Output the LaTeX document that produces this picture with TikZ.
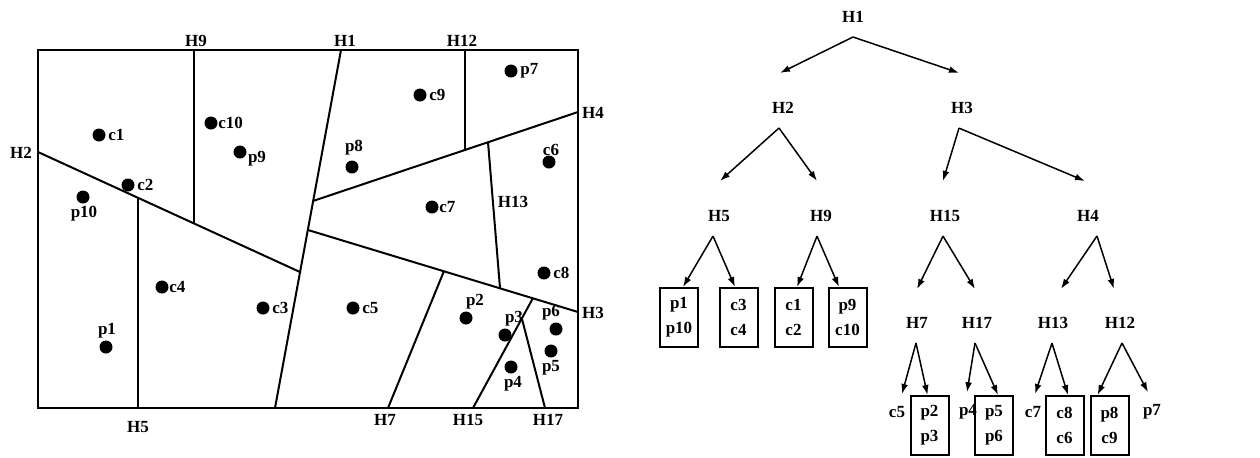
\documentclass[tikz,border=0pt]{standalone}
\usepackage{fontspec}
\setmainfont{Liberation Serif}
\usetikzlibrary{arrows.meta, positioning, calc}

\begin{document}
\begin{tikzpicture}[x=0.5pt, y=-0.5pt,
  lbl/.style={font=\fontsize{8.5}{9}\selectfont\bfseries, inner sep=1pt},
  dot/.style={circle, fill, inner sep=0pt, minimum size=6.5pt},
  wall/.style={line width=1pt},
  leaf/.style={draw, line width=1pt, minimum width=19pt, minimum height=29.5pt,
    inner sep=0pt, align=center, font=\fontsize{8.5}{12.5}\selectfont\bfseries},
  arr/.style={-{Latex[length=5pt, width=3.4pt]}, line width=0.75pt}]
  \useasboundingbox (0,0) rectangle (1260,457);

  % the partitioned plane
  \draw[line width=1.3pt] (38,50) rectangle (578,408);
  \draw[wall] (341,50) -- (275,408);   % H1
  \draw[wall] (38,152) -- (300,272);   % H2
  \draw[wall] (313,201) -- (578,112);  % H4
  \draw[wall] (308,230) -- (578,312);  % H3
  \draw[wall] (194,50) -- (194,224);   % H9
  \draw[wall] (138,198) -- (138,408);  % H5
  \draw[wall] (465,50) -- (465,150);   % H12
  \draw[wall] (488,142) -- (500,288);  % H13
  \draw[wall] (444,271) -- (388,408);  % H7
  \draw[wall] (473,408) -- (533,298);  % H15
  \draw[wall] (522,319) -- (545,408);  % H17

  \node[lbl] (lH9) at (196,41) {H9};
  \node[lbl] (lH1) at (345,41) {H1};
  \node[lbl] (lH12) at (462,41) {H12};
  \node[lbl] (lH4) at (593,113) {H4};
  \node[lbl] (lH2) at (21,153) {H2};
  \node[lbl] (lH13) at (513,202) {H13};
  \node[lbl] (lH3) at (593,313) {H3};
  \node[lbl] (lH5) at (138,427) {H5};
  \node[lbl] (lH7) at (385,420) {H7};
  \node[lbl] (lH15) at (468,420) {H15};
  \node[lbl] (lH17) at (548,420) {H17};

  % points
  \node[dot] (c1) at (99,135) {};
  \node[lbl, anchor=west] at (c1.east) {c1};
  \node[dot] (c10) at (211,123) {};
  \node[lbl, anchor=west, inner sep=0pt] at (c10.east) {c10};
  \node[dot] (p9) at (240,152) {};
  \node[lbl] at (257,159) {p9};
  \node[dot] (c2) at (128,185) {};
  \node[lbl, anchor=west] at (c2.east) {c2};
  \node[dot] (p10) at (83,197) {};
  \node[lbl] at (84,214) {p10};
  \node[dot] (p8) at (352,167) {};
  \node[lbl] at (354,148) {p8};
  \node[dot] (c9) at (420,95) {};
  \node[lbl, anchor=west] at (c9.east) {c9};
  \node[dot] (p7) at (511,71) {};
  \node[lbl, anchor=west] at (p7.east) {p7};
  \node[dot] (c6) at (549,162) {};
  \node[lbl] at (551,150) {c6};
  \node[dot] (c7) at (432,207) {};
  \node[lbl, anchor=west, inner sep=0pt] at (c7.east) {c7};
  \node[dot] (c4) at (162,287) {};
  \node[lbl, anchor=west, inner sep=0pt] at (c4.east) {c4};
  \node[dot] (c3) at (263,308) {};
  \node[lbl, anchor=west] at (c3.east) {c3};
  \node[dot] (p1) at (106,347) {};
  \node[lbl] at (107,331) {p1};
  \node[dot] (c5) at (353,308) {};
  \node[lbl, anchor=west] at (c5.east) {c5};
  \node[dot] (p2) at (466,318) {};
  \node[lbl] at (475,302) {p2};
  \node[dot] (p3) at (505,335) {};
  \node[lbl] at (514,319) {p3};
  \node[dot] (c8) at (544,273) {};
  \node[lbl, anchor=west] at (c8.east) {c8};
  \node[dot] (p6) at (556,329) {};
  \node[lbl] at (551,313) {p6};
  \node[dot] (p5) at (551,351) {};
  \node[lbl] at (551,368) {p5};
  \node[dot] (p4) at (511,367) {};
  \node[lbl] at (513,384) {p4};

  % the tree
  \node[lbl] (H1) at (853,17) {H1};
  \node[lbl] (H2) at (783,108) {H2};
  \node[lbl] (H3) at (962,108) {H3};
  \node[lbl] (H5) at (719,216) {H5};
  \node[lbl] (H9) at (821,216) {H9};
  \node[lbl] (H15) at (945,216) {H15};
  \node[lbl] (H4) at (1088,216) {H4};
  \node[lbl] (H7) at (917,323) {H7};
  \node[lbl] (H17) at (977,323) {H17};
  \node[lbl] (H13) at (1053,323) {H13};
  \node[lbl] (H12) at (1120,323) {H12};

  \node[leaf] (b1) at (679,317.5) {p1\\p10};
  \node[leaf] (b2) at (738.5,317.5) {c3\\c4};
  \node[leaf] (b3) at (793.5,317.5) {c1\\c2};
  \node[leaf] (b4) at (847.5,317.5) {p9\\c10};
  \node[leaf] (b5) at (929.5,425.5) {p2\\p3};
  \node[leaf] (b6) at (994,425.5) {p5\\p6};
  \node[leaf] (b7) at (1064.5,425.5) {c8\\c6};
  \node[leaf] (b8) at (1109.5,425.5) {p8\\c9};
  \node[lbl] (tc5) at (897,412) {c5};
  \node[lbl] (tp4) at (968,412) {p4};
  \node[lbl] (tc7) at (1033,412) {c7};
  \node[lbl] (tp7) at (1152,412) {p7};

  \draw[arr] ($(H1.south)+(0,12)$) -- ($(H2.north)+(-3,-27)$);
  \draw[arr] ($(H1.south)+(0,12)$) -- ($(H3.north)+(-3,-27)$);
  \draw[arr] ($(H2.south)+(-4,12)$) -- ($(H5.north)+(1,-27)$);
  \draw[arr] ($(H2.south)+(-4,12)$) -- ($(H9.north)+(-4,-27)$);
  \draw[arr] ($(H3.south)+(-3,12)$) -- ($(H15.north)+(-2,-27)$);
  \draw[arr] ($(H3.south)+(-3,12)$) -- ($(H4.north)+(-3,-27)$);
  \draw[arr] ($(H5.south)+(-6,12)$) -- ($(b1.north)+(4,0)$);
  \draw[arr] ($(H5.south)+(-6,12)$) -- ($(b2.north)+(-3.5,0)$);
  \draw[arr] ($(H9.south)+(-4,12)$) -- ($(b3.north)+(3.5,0)$);
  \draw[arr] ($(H9.south)+(-4,12)$) -- ($(b4.north)+(-8.5,0)$);
  \draw[arr] ($(H15.south)+(-2,12)$) -- ($(H7.north)+(0,-26)$);
  \draw[arr] ($(H15.south)+(-2,12)$) -- ($(H17.north)+(-2,-26)$);
  \draw[arr] ($(H4.south)+(9,12)$) -- ($(H13.north)+(8,-26)$);
  \draw[arr] ($(H4.south)+(9,12)$) -- ($(H12.north)+(-6,-26)$);
  \draw[arr] ($(H7.south)+(-1,12)$) -- ($(tc5.north)+(5,-10)$);
  \draw[arr] ($(H7.south)+(-1,12)$) -- ($(b5.north)+(-2,0)$);
  \draw[arr] ($(H17.south)+(-2,12)$) -- ($(tp4.north)+(-1,-10)$);
  \draw[arr] ($(H17.south)+(-2,12)$) -- ($(b6.north)+(4,0)$);
  \draw[arr] ($(H13.south)+(-1,12)$) -- ($(tc7.north)+(2,-10)$);
  \draw[arr] ($(H13.south)+(-1,12)$) -- ($(b7.north)+(3.5,0)$);
  \draw[arr] ($(H12.south)+(2,12)$) -- ($(b8.north)+(-12,0)$);
  \draw[arr] ($(H12.south)+(2,12)$) -- ($(tp7.north)+(-4,-10)$);
\end{tikzpicture}
\end{document}
